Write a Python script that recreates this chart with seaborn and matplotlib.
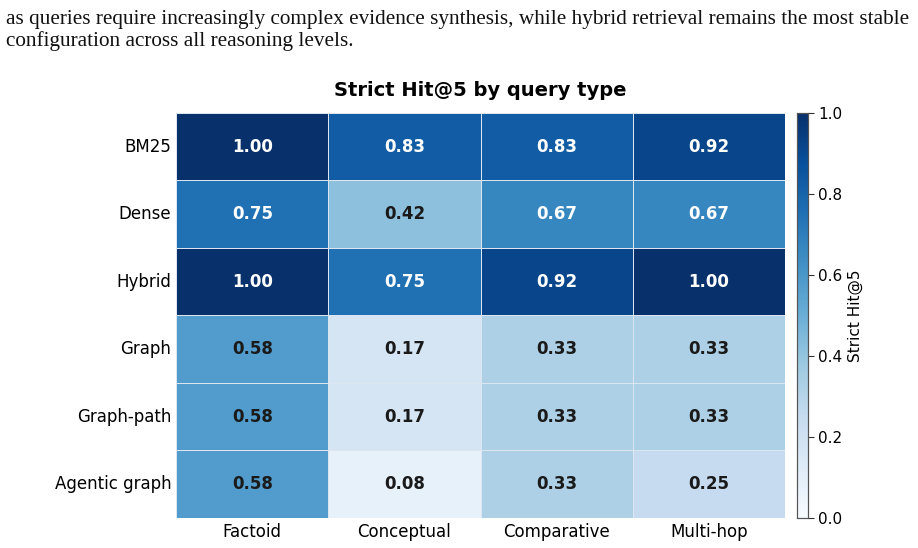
import numpy as np
import pandas as pd
import matplotlib
matplotlib.use("Agg")
import matplotlib.pyplot as plt
import seaborn as sns

methods = ["BM25", "Dense", "Hybrid", "Graph", "Graph-path", "Agentic graph"]
query_types = ["Factoid", "Conceptual", "Comparative", "Multi-hop"]
factoid = [1.00, 0.75, 1.00, 0.58, 0.58, 0.58]
conceptual = [0.83, 0.42, 0.75, 0.17, 0.17, 0.08]
comparative = [0.83, 0.67, 0.92, 0.33, 0.33, 0.33]
multi_hop = [0.92, 0.67, 1.00, 0.33, 0.33, 0.25]

df = pd.DataFrame({"Factoid": factoid, "Conceptual": conceptual,
                   "Comparative": comparative, "Multi-hop": multi_hop},
                  index=methods)[query_types]

sns.set_theme(style="white")
plt.rcParams['font.family'] = ['DejaVu Sans']
plt.rcParams['text.color'] = 'black'
plt.rcParams['xtick.color'] = 'black'
plt.rcParams['ytick.color'] = 'black'
plt.rcParams['axes.labelcolor'] = 'black'

fig = plt.figure(figsize=(9.18, 5.48), dpi=100)
ax = fig.add_axes([0.192, 0.055, 0.663, 0.739])
cax = fig.add_axes([0.868, 0.055, 0.012, 0.739])

sns.heatmap(df, ax=ax, cbar_ax=cax, cmap="Blues", vmin=0, vmax=1,
            annot=True, fmt=".2f", linewidths=0.5, linecolor="#dde6f0",
            annot_kws={"fontsize": 12, "fontweight": "bold"},
            cbar_kws={"label": "Strict Hit@5"})

# white text only on the darker cells
for txt in ax.texts:
    v = float(txt.get_text())
    txt.set_color("white" if v > 0.6 else "#1a1a1a")

ax.set_title("Strict Hit@5 by query type", fontsize=14, fontweight="bold", pad=12)
ax.set_xlabel("")
ax.set_ylabel("")
ax.tick_params(axis="both", labelsize=12, length=0)
plt.setp(ax.get_yticklabels(), rotation=0)
plt.setp(ax.get_xticklabels(), rotation=0)

cax.tick_params(labelsize=11, length=4, width=0.8, color="#333333")
cax.yaxis.label.set_size(11)
for sp in cax.spines.values():
    sp.set_visible(True)
    sp.set_edgecolor("#555555")
    sp.set_linewidth(0.8)
cax.set_yticks([0.0, 0.2, 0.4, 0.6, 0.8, 1.0])

# caption lines from the page above the figure
fig.text(0.006, 0.965, "as queries require increasingly complex evidence synthesis, while hybrid retrieval remains the most stable",
         fontsize=15.3, family="Liberation Serif", va="center", color="#111111")
fig.text(0.006, 0.925, "configuration across all reasoning levels.",
         fontsize=15.3, family="Liberation Serif", va="center", color="#111111")

fig.savefig("out.png", dpi=100)
